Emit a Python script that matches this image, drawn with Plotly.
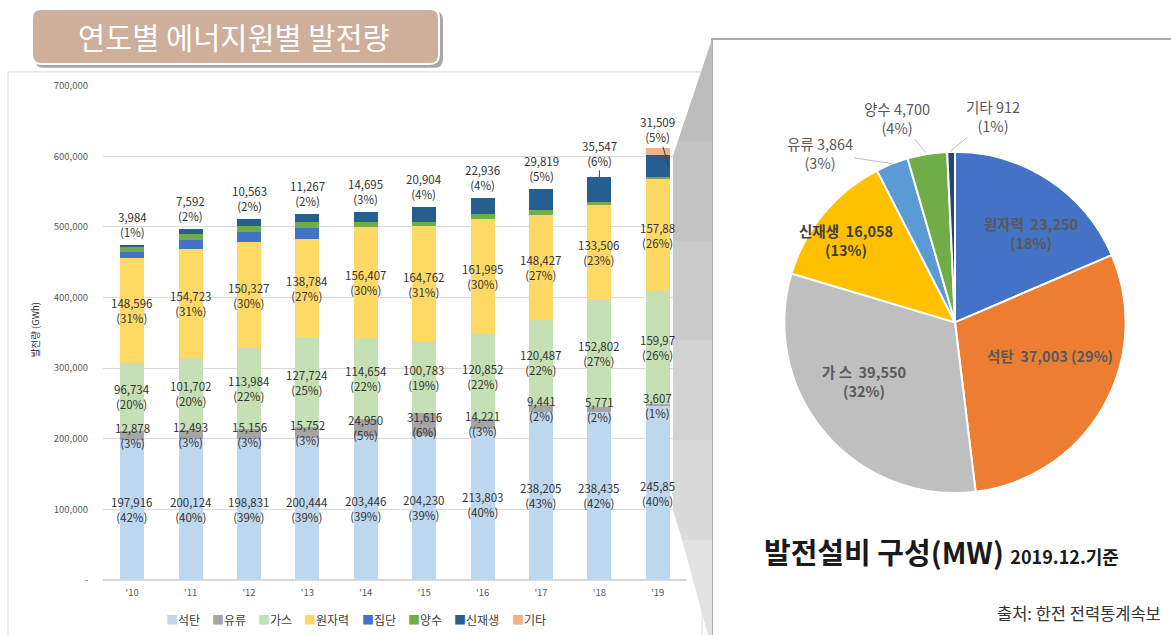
import plotly.graph_objects as go

# ---------------- data ----------------
years = ["'10", "'11", "'12", "'13", "'14", "'15", "'16", "'17", "'18", "'19"]
series_names = ["석탄", "유류", "가스", "원자력", "집단", "양수", "신재생", "기타"]

coal = [197916, 200124, 198831, 200444, 203446, 204230, 213803, 238205, 238435, 245850]
oil = [12878, 12493, 15156, 15752, 24950, 31616, 14221, 9441, 5771, 3607]
gas = [96734, 101702, 113984, 127724, 114654, 100783, 120852, 120487, 152802, 159970]
nuclear = [148596, 154723, 150327, 138784, 156407, 164762, 161995, 148427, 133506, 157880]
district = [8000, 12300, 14000, 15600, 0, 0, 0, 0, 0, 0]
pumped = [7000, 8000, 8500, 9000, 7000, 6000, 7000, 7000, 4200, 3800]
renew = [3984, 7592, 10563, 11267, 14695, 20904, 22936, 29819, 35547, 31509]
other = [0, 0, 0, 0, 0, 0, 0, 0, 0, 9400]

coal_pct = ["(42%)", "(40%)", "(39%)", "(39%)", "(39%)", "(39%)", "(40%)", "(43%)", "(42%)", "(40%)"]
oil_pct = ["(3%)", "(3%)", "(3%)", "(3%)", "(5%)", "(6%)", "((3%)", "(2%)", "(2%)", "(1%)"]
gas_pct = ["(20%)", "(20%)", "(22%)", "(25%)", "(22%)", "(19%)", "(22%)", "(22%)", "(27%)", "(26%)"]
nuc_pct = ["(31%)", "(31%)", "(30%)", "(27%)", "(30%)", "(31%)", "(30%)", "(27%)", "(23%)", "(26%)"]
renew_pct = ["(1%)", "(2%)", "(2%)", "(2%)", "(3%)", "(4%)", "(4%)", "(5%)", "(6%)", "(5%)"]

bar_colors = ["#BDD7EE", "#A5A5A5", "#C5E0B4", "#FFD966", "#4472C4", "#70AD47", "#255E91", "#F4B183"]

pie_labels = ["원자력", "석탄", "가 스", "신재생", "유류", "양수", "기타"]
pie_values = [23250, 37003, 39550, 16058, 3864, 4700, 912]
pie_pct = ["(18%)", "(29%)", "(32%)", "(13%)", "(3%)", "(4%)", "(1%)"]
pie_colors = ["#4472C4", "#ED7D31", "#BFBFBF", "#FFC000", "#5B9BD5", "#70AD47", "#264478"]

W, H = 1171, 635
FONT = "Noto Sans CJK KR"
Y_OFF, Y_SC = 7.0, 0.98   # vertical correction for how the page is photographed


def px(x):
    return x / W


def py(y):
    return 1 - ((y - Y_OFF) / Y_SC) / H


fig = go.Figure()

stack = [coal, oil, gas, nuclear, district, pumped, renew, other]
for name, vals, col in zip(series_names, stack, bar_colors):
    fig.add_trace(go.Bar(x=years, y=vals, name=name, marker=dict(color=col, line=dict(width=0)),
                         showlegend=False, hoverinfo="skip"))

fig.add_trace(go.Pie(values=pie_values, labels=pie_labels, sort=False, direction="clockwise",
                     rotation=0, textinfo="none", showlegend=False, hoverinfo="skip",
                     marker=dict(colors=pie_colors, line=dict(color="white", width=2)),
                     domain=dict(x=[px(955 - 171), px(955 + 171)], y=[py(322 + 171), py(322 - 171)])))

annotations = []
lab_font = dict(family=FONT, size=11.5, color="#333333")
n = len(years)
C = dict(xanchor="center", yanchor="middle")


def fmt(v, i):
    s = f"{v:,}"
    # the last digit of the 2019 values is hidden by the callout panel in the original
    return s[:-1] if i == n - 1 else s


for i in range(n):
    base = 0
    for vals, pct in [(coal, coal_pct), (oil, oil_pct), (gas, gas_pct), (nuclear, nuc_pct)]:
        v = vals[i]
        num = f"{v:,}" if vals is oil else fmt(v, i)
        annotations.append(dict(x=years[i], y=base + v / 2, xref="x", yref="y",
                                text=f"{num}<br>{pct[i]}", showarrow=False, font=lab_font,
                                align="center", **C))
        base += v
    total_r = sum(s[i] for s in stack[:7])
    total = sum(s[i] for s in stack)
    rtxt = f"{renew[i]:,}<br>{renew_pct[i]}"
    if years[i] == "'18":
        annotations.append(dict(x=i, y=total, xref="x", yref="y", text=rtxt, font=lab_font,
                                showarrow=True, arrowhead=0, arrowwidth=1, arrowcolor="#404040",
                                ax=0, ay=-24, standoff=0))
    elif years[i] == "'19":
        annotations.append(dict(x=i + 0.19, y=total_r - renew[i] * 0.55, xref="x", yref="y", text=rtxt,
                                font=lab_font, showarrow=True, arrowhead=0, arrowwidth=1,
                                arrowcolor="#404040", ax=-11, ay=-37, standoff=0))
    else:
        annotations.append(dict(x=years[i], y=total, xref="x", yref="y", text=rtxt, font=lab_font,
                                showarrow=False, xanchor="center", yanchor="bottom", yshift=3))

# legend (drawn as text items so its compact spacing matches)
LEG_SIZE = 12
lx = 164
for nm, c in zip(series_names, bar_colors):
    annotations.append(dict(x=px(lx), y=py(620), xref="paper", yref="paper", xanchor="left", yanchor="middle",
                            text=f"<span style='color:{c}'>■</span>{nm}", showarrow=False,
                            font=dict(family=FONT, size=LEG_SIZE, color="#404040")))
    lx += LEG_SIZE * (len(nm) + 1) + 10

# y axis title
annotations.append(dict(x=px(35), y=py(330), xref="paper", yref="paper", text="발전량 (GWh)",
                        textangle=-90, showarrow=False, font=dict(family=FONT, size=9.5, color="#333333"), **C))

# main title
annotations.append(dict(x=px(234), y=py(35), xref="paper", yref="paper", text="연도별 에너지원별 발전량",
                        showarrow=False, font=dict(family=FONT, size=29.5, color="white"), **C))

# pie labels
inside = {0: (1031, 232, "#595959", True), 1: (1050, 355, "#595959", False),
          2: (864, 381, "#595959", True), 3: (846, 239, "#404040", True)}
for k, (x, y, c, two) in inside.items():
    sep = "<br>" if two else " "
    annotations.append(dict(x=px(x), y=py(y), xref="paper", yref="paper",
                            text=f"<b>{pie_labels[k]}  {pie_values[k]:,}{sep}{pie_pct[k]}</b>",
                            showarrow=False, font=dict(family=FONT, size=14.5, color=c), **C))
outside = {4: (892, 163, -72, -11), 5: (926, 152, -29, -35), 6: (950, 151, 43, -36)}
for k, (tx, ty, ax, ay) in outside.items():
    annotations.append(dict(x=px(tx), y=py(ty), xref="paper", yref="paper",
                            text=f"{pie_labels[k]} {pie_values[k]:,}<br>{pie_pct[k]}",
                            showarrow=True, arrowhead=0, arrowwidth=1, arrowcolor="#BFBFBF",
                            ax=ax, ay=ay, standoff=0,
                            font=dict(family=FONT, size=14.5, color="#595959")))

annotations.append(dict(x=px(762), y=py(551), xref="paper", yref="paper", xanchor="left", yanchor="middle",
                        text="<b>발전설비 구성(MW)</b> <b><span style='font-size:18px'>2019.12.기준</span></b>",
                        showarrow=False, font=dict(family=FONT, size=29, color="#1a1a1a")))
annotations.append(dict(x=px(1163), y=py(613), xref="paper", yref="paper", xanchor="right", yanchor="middle",
                        text="출처: 한전 전력통계속보", showarrow=False,
                        font=dict(family=FONT, size=16.5, color="#333333")))


def path(pts):
    return "M " + " L ".join(f"{px(x):.5f} {py(y):.5f}" for x, y in pts) + " Z"


def rrect(x0, y0, x1, y1, r):
    return (f"M {px(x0 + r)} {py(y0)} L {px(x1 - r)} {py(y0)} Q {px(x1)} {py(y0)} {px(x1)} {py(y0 + r)} "
            f"L {px(x1)} {py(y1 - r)} Q {px(x1)} {py(y1)} {px(x1 - r)} {py(y1)} "
            f"L {px(x0 + r)} {py(y1)} Q {px(x0)} {py(y1)} {px(x0)} {py(y1 - r)} "
            f"L {px(x0)} {py(y0 + r)} Q {px(x0)} {py(y0)} {px(x0 + r)} {py(y0)} Z")


shapes = []
# left frame
shapes.append(dict(type="rect", xref="paper", yref="paper", x0=px(8), x1=px(702), y0=py(660), y1=py(71),
                   line=dict(color="#D9D9D9", width=1), fillcolor="rgba(0,0,0,0)", layer="below"))
# right panel
shapes.append(dict(type="rect", xref="paper", yref="paper", x0=px(712), x1=px(1180), y0=py(665), y1=py(38),
                   line=dict(color="#ABABAB", width=2), fillcolor="white", layer="below"))
# callout trapezoid, banded to imitate gradient
bands = [(38, "#BDBDBD"), (140, "#C3C3C3"), (240, "#CACACA"), (340, "#D2D2D2"), (440, "#DADADA"), (540, "#E2E2E2")]
YB = 650
edges = [b[0] for b in bands] + [YB]


def left_x(y):
    if y <= 155:
        return 673 + (712 - 673) * (155 - y) / (155 - 38)
    if y <= 510:
        return 673
    return 673 + (711 - 673) * (y - 510) / (636 - 510)


for j, (y0, col) in enumerate(bands):
    y1 = edges[j + 1] + (1 if j < len(bands) - 1 else 0)
    pts = [(712, y0), (712, y1), (min(712, left_x(y1)), y1)]
    if y0 < 510 < y1:
        pts.append((673, 510))
    if y0 < 155 < y1:
        pts.append((673, 155))
    pts.append((left_x(y0), y0))
    shapes.append(dict(type="path", xref="paper", yref="paper", path=path(pts),
                       fillcolor=col, line=dict(width=0), layer="above"))
# title box: shadow + box
shapes.append(dict(type="path", xref="paper", yref="paper", path=rrect(35, 10, 443, 67, 9),
                   fillcolor="rgba(80,80,80,0.5)", line=dict(width=0), layer="above"))
shapes.append(dict(type="path", xref="paper", yref="paper", path=rrect(32, 8, 439, 63, 9),
                   fillcolor="#CDAF9B", line=dict(color="white", width=2), layer="above"))

fig.update_layout(
    width=W, height=H, margin=dict(l=0, r=0, t=0, b=0),
    paper_bgcolor="white", plot_bgcolor="white",
    barmode="stack", bargap=0.59,
    font=dict(family=FONT),
    xaxis=dict(domain=[px(103), px(687)], showgrid=False, showline=False, ticks="",
               tickfont=dict(family=FONT, size=9.5, color="#595959"), ticklabelstandoff=6, fixedrange=True),
    yaxis=dict(domain=[py(580), py(85)], range=[0, 700000],
               tickvals=[0, 100000, 200000, 300000, 400000, 500000, 600000, 700000],
               ticktext=["-", "100,000", "200,000", "300,000", "400,000", "500,000", "600,000", "700,000"],
               gridcolor="#D9D9D9", gridwidth=1, zeroline=True, zerolinecolor="#D9D9D9",
               showline=False, ticks="", ticklabelstandoff=14,
               tickfont=dict(family=FONT, size=9.5, color="#595959"), fixedrange=True),
    annotations=annotations, shapes=shapes,
)

post = (
    "document.documentElement.style.margin='0';document.documentElement.style.padding='0';"
    "document.documentElement.style.overflow='hidden';"
    "document.body.style.margin='0';document.body.style.padding='0';document.body.style.overflow='hidden';"
    "var gd=document.getElementsByClassName('plotly-graph-div')[0];"
    "gd.style.position='fixed';gd.style.left='0px';gd.style.top='0px';"
)
fig.write_html("out.html", config={"responsive": False, "displayModeBar": False}, post_script=post)
